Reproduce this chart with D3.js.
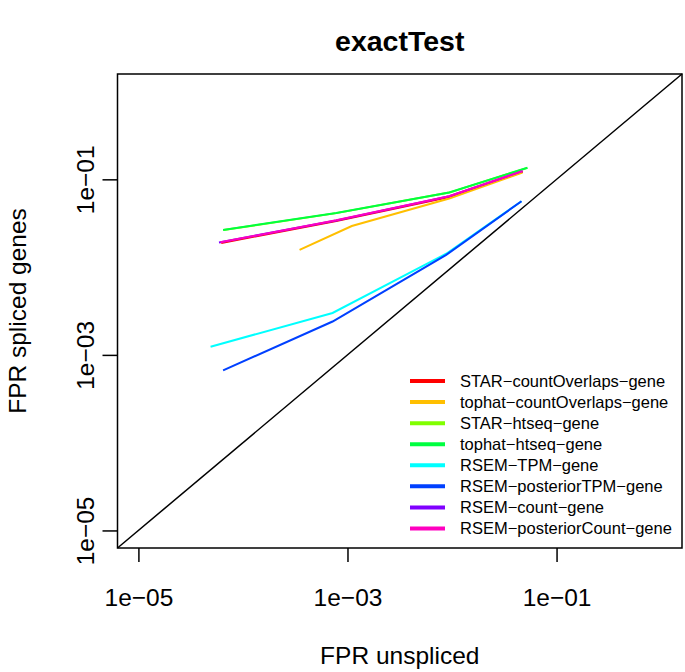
<!DOCTYPE html>
<html><head><meta charset="utf-8">
<script src="https://cdn.jsdelivr.net/npm/d3@7"></script>
<style>body{margin:0;background:#fff}svg{display:block}text{font-family:"Liberation Sans",Arial,sans-serif}</style>
</head><body>
<script>
const seriesNames = ["STAR\u2212countOverlaps\u2212gene","tophat\u2212countOverlaps\u2212gene","STAR\u2212htseq\u2212gene","tophat\u2212htseq\u2212gene","RSEM\u2212TPM\u2212gene","RSEM\u2212posteriorTPM\u2212gene","RSEM\u2212count\u2212gene","RSEM\u2212posteriorCount\u2212gene"];
const seriesColors = ["#FF0000","#FFBF00","#80FF00","#00FF40","#00FFFF","#0040FF","#8000FF","#FF00BF"];
const fprUnspliced = [
  [6.2e-5, 7.8e-4, 9.4e-3, 0.0475],
  [3.48e-4, 1.1e-3, 9.4e-3, 0.0472],
  [6.5e-5, 7.8e-4, 9.4e-3, 0.0525],
  [6.46e-5, 7.8e-4, 9.4e-3, 0.0527],
  [4.9e-5, 7.2e-4, 8.8e-3, 0.0462],
  [6.46e-5, 7.2e-4, 8.8e-3, 0.0462],
  [5.9e-5, 7.8e-4, 9.4e-3, 0.0472],
  [6.1e-5, 7.8e-4, 9.4e-3, 0.0472]
];
const fprSpliced = [
  [0.0188, 0.0336, 0.0628, 0.1218],
  [0.0157, 0.0294, 0.0605, 0.1195],
  [0.0264, 0.0412, 0.0706, 0.1352],
  [0.0265, 0.0413, 0.0708, 0.1355],
  [0.00124, 0.00300, 0.01420, 0.0563],
  [0.000666, 0.00240, 0.0138, 0.0563],
  [0.0191, 0.0340, 0.0641, 0.1242],
  [0.0192, 0.0341, 0.0642, 0.1242]
];
const tickValues = [1e-5, 1e-3, 1e-1];
const tickLabels = ["1e\u221205","1e\u221203","1e\u221201"];

const W = 685, H = 672;
const L = 117.5, R = 682, T = 74, B = 548;
const lim = [Math.pow(10,-5.2), Math.pow(10,0.2)];
const svg = d3.select("body").append("svg").attr("width",W).attr("height",H);
const x = d3.scaleLog().domain(lim).range([L,R]);
const y = d3.scaleLog().domain(lim).range([B,T]);

// title
svg.append("text").attr("x",(L+R)/2).attr("y",51).attr("text-anchor","middle")
  .attr("font-size",28.5).attr("font-weight","bold").text("exactTest");

// diagonal
svg.append("line").attr("x1",x(lim[0])).attr("y1",y(lim[0])).attr("x2",x(lim[1])).attr("y2",y(lim[1]))
  .attr("stroke","#000").attr("stroke-width",1.5);

const line = d3.line().x(d=>x(d[0])).y(d=>y(d[1]));
seriesNames.forEach((n,i)=>{
  const pts = fprUnspliced[i].map((v,j)=>[v,fprSpliced[i][j]]);
  svg.append("path").attr("d",line(pts)).attr("fill","none")
    .attr("stroke",seriesColors[i]).attr("stroke-width",2);
});

// axes
const xa = d3.axisBottom(x).tickValues(tickValues).tickFormat((d,i)=>tickLabels[i]).tickSize(14);
const gx = svg.append("g").attr("transform",`translate(0,${B})`).call(xa);
gx.select(".domain").remove();
gx.selectAll("line").attr("stroke","#000").attr("stroke-width",1.5);
gx.selectAll("text").attr("font-size",24.5).attr("fill","#000").attr("font-family","Liberation Sans, Arial, sans-serif")
  .attr("y",0).attr("dy",0).attr("transform","translate(0,58)");

const ya = d3.axisLeft(y).tickValues(tickValues).tickFormat((d,i)=>tickLabels[i]).tickSize(15);
const gy = svg.append("g").attr("transform",`translate(${L},0)`).call(ya);
gy.select(".domain").remove();
gy.selectAll("line").attr("stroke","#000").attr("stroke-width",1.5);
gy.selectAll("text").attr("font-size",24.5).attr("fill","#000").attr("font-family","Liberation Sans, Arial, sans-serif")
  .attr("text-anchor","middle").attr("x",0).attr("dy",0)
  .attr("transform","translate(-24,0) rotate(-90)");

// box
svg.append("rect").attr("x",L).attr("y",T).attr("width",R-L).attr("height",B-T)
  .attr("fill","none").attr("stroke","#000").attr("stroke-width",1.5);

// axis titles
svg.append("text").attr("x",(L+R)/2).attr("y",664).attr("text-anchor","middle").attr("font-size",24.5).text("FPR unspliced");
svg.append("text").attr("transform",`translate(26,${(T+B)/2}) rotate(-90)`).attr("text-anchor","middle").attr("font-size",24.5).text("FPR spliced genes");

// legend
const lg = svg.append("g");
seriesNames.forEach((n,i)=>{
  const yy = 381 + i*21.07;
  lg.append("line").attr("x1",410).attr("x2",445).attr("y1",yy).attr("y2",yy)
    .attr("stroke",seriesColors[i]).attr("stroke-width",4);
  lg.append("text").attr("x",460).attr("y",yy).attr("dy","0.35em").attr("font-size",16.5).text(n);
});
</script>
</body></html>
